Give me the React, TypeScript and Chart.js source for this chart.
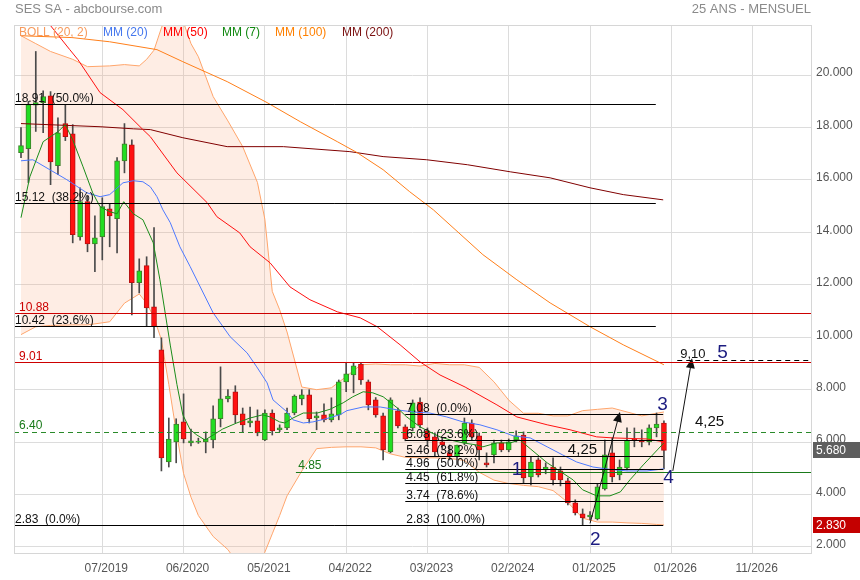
import React, { useEffect, useRef } from 'react';
import { Chart, registerables } from 'chart.js';

Chart.register(...registerables);

const FONT = '"Liberation Sans", Arial, Helvetica, sans-serif';

// ---------- monthly candles (index 0 = first month shown) ----------
const opens = [
  17.04, 17.19, 18.85, 18.95, 19.21, 16.54, 18.15, 17.76, 13.83, 15.17,
  13.56, 13.83, 14.9, 14.52, 16.73, 17.34, 12.08, 12.73, 11.16, 9.52,
  5.24, 6.01, 6.77, 5.97, 6.0, 6.01, 6.08, 6.89, 7.65, 7.92,
  7.08, 6.73, 6.81, 6.08, 7.11, 6.47, 6.54, 7.11, 7.65, 7.8,
  6.92, 7.04, 6.85, 7.04, 8.3, 8.56, 8.98, 8.3, 7.61, 7.0,
  5.63, 7.19, 6.58, 6.54, 7.53, 6.43, 6.2, 6.01, 5.59, 5.44,
  5.97, 6.73, 6.24, 5.21, 5.51, 5.97, 5.7, 6.08, 6.27, 4.67,
  5.32, 4.94, 5.05, 4.9, 4.52, 3.68, 3.26, 3.15, 3.07, 4.21,
  5.59, 4.75, 5.02, 6.12, 6.08, 6.01, 6.54, 6.73,
];
const highs = [
  18.0, 19.0, 20.9, 19.4, 19.37, 18.37, 18.87, 18.11, 15.7, 15.4,
  14.63, 15.32, 15.1, 16.85, 18.15, 17.53, 12.99, 13.07, 14.18, 9.98,
  6.92, 6.89, 7.84, 6.5, 6.15, 6.39, 7.38, 8.87, 8.0, 8.15,
  7.3, 7.34, 7.23, 7.23, 7.23, 6.66, 7.3, 7.8, 8.0, 8.0,
  7.15, 7.46, 7.69, 8.37, 9.02, 9.02, 9.02, 8.37, 7.7, 7.11,
  7.69, 7.3, 6.66, 7.61, 7.69, 6.54, 6.35, 6.16, 5.89, 5.89,
  6.92, 6.85, 6.35, 5.59, 6.08, 6.08, 6.12, 6.43, 6.39, 5.44,
  5.4, 5.21, 5.4, 5.05, 4.63, 3.8, 3.45, 3.35, 4.4, 6.08,
  6.16, 5.32, 6.54, 6.54, 6.47, 6.66, 7.11, 6.81,
];
const lows = [
  16.85, 15.9, 17.85, 17.8, 15.82, 16.2, 17.5, 13.6, 13.7, 13.26,
  12.5, 12.95, 13.45, 13.22, 16.27, 10.85, 11.69, 10.44, 9.98, 4.9,
  5.05, 5.21, 5.97, 5.85, 5.95, 5.59, 5.78, 6.58, 7.53, 6.73,
  6.39, 6.58, 6.24, 6.05, 6.27, 6.4, 6.47, 7.04, 7.42, 6.73,
  6.47, 6.77, 6.77, 6.85, 7.92, 7.88, 8.2, 7.23, 6.95, 5.32,
  5.59, 6.54, 6.05, 6.43, 6.54, 5.86, 5.48, 5.7, 5.32, 5.13,
  5.9, 6.08, 5.32, 5.05, 5.21, 5.63, 5.63, 6.01, 4.44, 4.37,
  4.67, 4.79, 4.37, 4.33, 3.6, 3.22, 2.83, 3.03, 3.03, 4.17,
  4.48, 4.56, 4.94, 5.82, 5.82, 5.89, 6.2, 4.98,
];
const closes = [
  17.31, 18.87, 18.95, 19.18, 16.69, 17.8, 17.65, 13.91, 15.17, 13.56,
  13.79, 14.98, 14.63, 16.73, 17.38, 12.08, 12.53, 11.12, 10.4, 5.4,
  6.12, 6.69, 6.12, 6.05, 6.02, 6.12, 6.89, 7.65, 7.76, 7.04,
  6.66, 6.81, 6.35, 7.11, 6.43, 6.54, 7.11, 7.76, 7.8, 6.89,
  7.0, 6.85, 7.08, 8.3, 8.6, 8.91, 8.37, 7.42, 7.04, 5.7,
  7.61, 6.62, 6.12, 7.5, 6.66, 6.08, 5.63, 5.89, 5.44, 5.89,
  6.73, 6.2, 5.7, 5.13, 5.97, 5.7, 6.01, 6.24, 4.63, 5.24,
  4.75, 5.05, 4.56, 4.56, 3.68, 3.3, 3.11, 3.22, 4.29, 5.51,
  4.67, 5.05, 6.08, 6.05, 6.01, 6.54, 6.69, 5.68,
];

// ---------- axes ----------
const xTickIdx = [11, 22, 33, 44, 55, 66, 77, 88, 99];
const xTickLabels = ['07/2019', '06/2020', '05/2021', '04/2022', '03/2023', '02/2024', '01/2025', '01/2026', '11/2026'];
const yTickValues = [2, 4, 6, 8, 10, 12, 14, 16, 18, 20];

// ---------- indicators: [month index, value] ----------
const mm7: [number, number][] = [
  [0, 14.56], [1.2, 16.12], [3, 17.46], [5, 17.84], [6, 18.11], [7, 17.53], [8.4, 16.5], [9.7, 15.51],
  [10.7, 14.98], [12, 14.79], [13, 14.71], [13.9, 15.17], [15.2, 14.71], [16.5, 14.48], [17.9, 13.6],
  [18.8, 12.19], [20.2, 9.7], [21.1, 8.2], [21.9, 7.04], [22.9, 6.47], [23.8, 6.27], [24.9, 6.08],
  [26, 6.27], [27.3, 6.5], [29.2, 6.73], [31, 6.92], [32.7, 7.04], [33.7, 6.96], [35, 6.77], [35.7, 6.73],
  [36.8, 6.92], [38.2, 7.11], [40.1, 7.11], [41.8, 7.25], [43.6, 7.5], [44.9, 7.73], [46.3, 7.92],
  [47.6, 7.88], [49, 7.73], [50.9, 7.31], [52.2, 6.96], [54, 6.58], [55.3, 6.39], [56.7, 6.2], [58.1, 6.08],
  [59.8, 5.97], [61.7, 5.89], [62.5, 5.82], [64.4, 5.97], [66.2, 5.97], [67.5, 6.08], [68.9, 5.75],
  [71.2, 5.21], [73.3, 4.82], [74.7, 4.56], [76, 4.18], [77.9, 3.95], [79.7, 3.95], [81.1, 4.1],
  [82.4, 4.56], [84.2, 5.13], [86.1, 5.7], [87, 5.97],
];
const mm20: [number, number][] = [
  [0, 16.73], [1.6, 16.77], [3.9, 16.39], [6.2, 16.01], [8.9, 15.51], [10.7, 15.36], [12, 15.44],
  [13.8, 15.89], [15.2, 15.97], [16.5, 15.93], [17.5, 15.74], [18.4, 15.36], [19.2, 14.86], [20.2, 14.37],
  [21.5, 13.45], [22.9, 12.69], [26, 10.93], [28.3, 10.02], [30.6, 9.4], [31.9, 8.87], [33.3, 8.26],
  [34.1, 7.61], [36, 7.15], [36.8, 6.85], [38.2, 6.73], [39.5, 6.77], [41.4, 6.9], [43.2, 7.05],
  [44.1, 7.2], [46.3, 7.34], [48.6, 7.34], [50.9, 7.23], [53, 7.15], [55.3, 7.11], [57.6, 6.96],
  [59.8, 6.77], [62.1, 6.66], [64.4, 6.47], [66.6, 6.24], [68.9, 6.16], [71.2, 5.82], [73.3, 5.51],
  [75.2, 5.24], [77.4, 5.05], [79.7, 4.96], [82, 4.9], [84.7, 4.9], [87, 4.98],
];
const mm50: [number, number][] = [
  [0, 23.4], [3.2, 22.1], [3.9, 21.92], [6.6, 20.97], [7.7, 20.59], [10.7, 19.33], [13.8, 18.68],
  [16.5, 17.92], [17.5, 17.65], [21.1, 16.27], [25.2, 15.13], [26.5, 14.6], [29.6, 13.98], [31, 13.45],
  [33.7, 12.84], [36.4, 11.92], [39.1, 11.43], [42.8, 10.97], [45.9, 10.74], [48.2, 10.4], [51.3, 9.71],
  [54, 9.06], [56.7, 8.56], [60.1, 8.1], [64.4, 7.42], [67.1, 6.96], [71.2, 6.66], [74.3, 6.47],
  [77.9, 6.2], [80.1, 6.16], [84.7, 6.12], [86.9, 6.01],
];
const mm100: [number, number][] = [
  [0, 21.5], [6.9, 21.43], [12, 21.27], [18.4, 20.97], [21.9, 20.51], [27.9, 19.75], [33.3, 18.95],
  [37.8, 18.22], [42.8, 17.46], [45.5, 17.04], [49, 16.39], [52.6, 15.55], [55.8, 14.86], [62.5, 13.15],
  [67.1, 12.19], [71.6, 11.31], [77, 10.4], [81.5, 9.71], [87, 8.95],
];
const mm200: [number, number][] = [
  [0, 18.15], [10.7, 18.03], [15.2, 17.95], [17.5, 17.92], [21.9, 17.61], [27.9, 17.27], [35.5, 17.27],
  [44.5, 17.08], [49, 16.89], [54.9, 16.77], [60.4, 16.58], [66.2, 16.31], [71.6, 16.08], [77, 15.7],
  [81.5, 15.44], [86.9, 15.24],
];
const bollIdx = [0, 2, 4, 7, 9, 12, 14, 16, 17, 18, 19, 20, 21, 22, 23, 24, 26, 28, 30, 32, 33, 34, 35, 36, 38,
  40, 42, 44, 46, 48, 50, 52, 54, 56, 58, 60, 62, 64, 66, 68, 70, 72, 74, 76, 78, 80, 82, 84, 86, 87];
const bollUpper = [21.5, 21.2, 20.9, 20.6, 20.32, 20.35, 20.4, 20.35, 20.6, 20.95, 21.8, 22.5, 22.6, 22.0, 21.2,
  20.7, 19.18, 18.25, 17.27, 15.9, 14.5, 11.75, 11.05, 10.2, 8.1, 8.0, 8.07, 8.5, 8.95, 8.98, 8.95, 8.95, 8.9,
  9.0, 8.95, 8.95, 8.85, 8.3, 7.6, 7.1, 7.1, 7.0, 7.0, 7.2, 7.25, 7.3, 7.15, 7.0, 7.1, 7.15];
const bollLower = [10.1, 10.4, 10.45, 10.47, 10.47, 10.59, 11.3, 11.65, 11.3, 10.75, 9.9, 8.2, 6.4, 4.8, 3.9,
  3.2, 2.4, 1.9, 1.1, 1.2, 1.8, 2.5, 3.2, 3.95, 4.9, 5.75, 5.8, 5.82, 5.82, 5.78, 5.55, 5.42, 5.4, 5.4, 5.38,
  5.3, 4.85, 4.55, 4.42, 4.35, 4.3, 4.15, 3.7, 3.1, 2.95, 2.95, 2.92, 2.9, 2.86, 2.84];

// ---------- drawn levels & annotations ----------
const fibLeftValues = [18.91, 15.12, 10.42, 2.83];
const fibLeftPct = ['50.0%', '38.2%', '23.6%', '0.0%'];
const fibRightValues = [7.08, 6.08, 5.46, 4.96, 4.45, 3.74, 2.83];
const fibRightPct = ['0.0%', '23.6%', '38.2%', '50.0%', '61.8%', '78.6%', '100.0%'];
const redLevels = [10.88, 9.01];
const greenDashedLevel = 6.4;
const greenSolidLevel = 4.85;
const targetLevel = 9.1;
const waveLabels = ['1', '2', '3', '4', '5'];
const waveIdx = [66.4, 77.0, 86.1, 86.9, 94.2];
const waveVal = [4.75, 2.08, 7.22, 4.44, 9.21];
const arrowFrom: [number, number][] = [[77, 2.9], [88.2, 4.9]];
const arrowTo: [number, number][] = [[81.05, 7.15], [90.8, 9.2]];
const moveLabels = ['4,25', '4,25', '9,10'];
const moveIdx = [74.0, 91.2, 89.2];
const moveVal = [5.55, 6.61, 9.21];
const lastPrice = 5.68;
const lowPrice = 2.83;

const legendItems = ['BOLL (20, 2)', 'MM (20)', 'MM (50)', 'MM (7)', 'MM (100)', 'MM (200)'];
const legendColors = ['#f79a5c', '#4477ee', '#ff0000', '#118811', '#ff8000', '#7a1010'];
const legendX = [19, 103, 163, 222, 275, 342];

// ---------- layout constants ----------
const X_MIN = -0.947;
const X_MAX = 106.9;
const FIB_LEFT_END = 85.9;
const FIB_RIGHT_START = 52.0;
const FIB_RIGHT_END = 86.9;
const GREEN_SOLID_START = 37.2;
const TARGET_START = 88.8;
const RED = '#cc0000';

const pts = (arr: [number, number][]) => arr.map(([x, y]) => ({ x, y }));

const annotations = {
  id: 'annotations',
  afterDatasetsDraw(chart: any) {
    const { ctx, chartArea: ca, scales } = chart;
    const xs = scales.x;
    const ys = scales.y;
    const px = (v: number) => xs.getPixelForValue(v);
    const py = (v: number) => ys.getPixelForValue(v);
    ctx.save();
    ctx.beginPath();
    ctx.rect(ca.left, ca.top, ca.right - ca.left, ca.bottom - ca.top);
    ctx.clip();
    const hline = (v: number, x0: number, x1: number, color: string, dash: number[] = [], up = false) => {
      const y = Math.round(py(v)) - (up ? 1 : 0) + 0.5;
      ctx.beginPath();
      ctx.setLineDash(dash);
      ctx.strokeStyle = color;
      ctx.lineWidth = 1;
      ctx.moveTo(px(x0), y);
      ctx.lineTo(px(x1), y);
      ctx.stroke();
      ctx.setLineDash([]);
    };
    const text = (t: string, x: number, y: number, color: string, size = 12, align: CanvasTextAlign = 'left') => {
      ctx.font = `${size}px ${FONT}`;
      ctx.fillStyle = color;
      ctx.textAlign = align;
      ctx.textBaseline = 'alphabetic';
      ctx.fillText(t, x, y);
    };

    hline(greenDashedLevel, X_MIN, X_MAX, '#2a8a2a', [5, 4]);
    hline(greenSolidLevel, GREEN_SOLID_START, X_MAX, '#1a7a1a');
    hline(targetLevel, TARGET_START, X_MAX, '#000000', [5, 4], true);
    fibLeftValues.forEach((v) => hline(v, X_MIN, FIB_LEFT_END, '#000000'));
    fibRightValues.forEach((v) => hline(v, FIB_RIGHT_START, FIB_RIGHT_END, '#000000'));

    // level texts
    fibLeftValues.forEach((v, i) => text(`${v.toFixed(2)}  (${fibLeftPct[i]})`, ca.left + 1, py(v) - 2, '#111'));
    fibRightValues.forEach((v, i) => text(`${v.toFixed(2)}  (${fibRightPct[i]})`, px(FIB_RIGHT_START) + 1, py(v) - 2, '#111'));
    redLevels.forEach((v) => text(v.toFixed(2), ca.left + 5, py(v) - 3, RED));
    text(greenDashedLevel.toFixed(2), ca.left + 5, py(greenDashedLevel) - 3, '#1a7a1a');
    text(greenSolidLevel.toFixed(2), px(37.5), py(greenSolidLevel) - 3, '#1a7a1a');

    // arrows
    arrowFrom.forEach((f, i) => {
      const t = arrowTo[i];
      const x0 = px(f[0]), y0 = py(f[1]), x1 = px(t[0]), y1 = py(t[1]);
      const ang = Math.atan2(y1 - y0, x1 - x0);
      const len = 10, half = 4.5;
      ctx.strokeStyle = '#111';
      ctx.lineWidth = 1;
      ctx.beginPath();
      ctx.moveTo(x0, y0);
      ctx.lineTo(x1 - Math.cos(ang) * len * 0.8, y1 - Math.sin(ang) * len * 0.8);
      ctx.stroke();
      ctx.fillStyle = '#111';
      ctx.beginPath();
      ctx.moveTo(x1, y1);
      ctx.lineTo(x1 - Math.cos(ang) * len - Math.sin(ang) * half, y1 - Math.sin(ang) * len + Math.cos(ang) * half);
      ctx.lineTo(x1 - Math.cos(ang) * len + Math.sin(ang) * half, y1 - Math.sin(ang) * len - Math.cos(ang) * half);
      ctx.closePath();
      ctx.fill();
    });

    moveLabels.forEach((t, i) => text(t, px(moveIdx[i]), py(moveVal[i]), '#111', i === 2 ? 13 : 15));
    waveLabels.forEach((t, i) => text(t, px(waveIdx[i]), py(waveVal[i]), '#1c1c80', 19));

    // red horizontal levels on top
    redLevels.forEach((v) => hline(v, X_MIN, X_MAX, RED, [], true));
    ctx.restore();
  },
  afterDraw(chart: any) {
    const { ctx, chartArea: ca, scales } = chart;
    const ys = scales.y;
    ctx.save();
    // frame
    ctx.strokeStyle = '#d6d6d6';
    ctx.lineWidth = 1;
    ctx.strokeRect(Math.round(ca.left) + 0.5, Math.round(ca.top) + 0.5, Math.round(ca.right - ca.left), Math.round(ca.bottom - ca.top));
    // title
    ctx.font = `13px ${FONT}`;
    ctx.fillStyle = '#8a8a8a';
    ctx.textBaseline = 'middle';
    ctx.textAlign = 'left';
    ctx.fillText('SES SA - abcbourse.com', 15, 9);
    ctx.textAlign = 'right';
    ctx.fillText('25 ANS - MENSUEL', ca.right, 9);
    // legend
    ctx.font = `12px ${FONT}`;
    ctx.textAlign = 'left';
    legendItems.forEach((t, i) => {
      ctx.fillStyle = legendColors[i];
      ctx.fillText(t, legendX[i], 33);
    });
    // price boxes on the axis
    const box = (v: number, bg: string) => {
      const y = Math.round(ys.getPixelForValue(v));
      ctx.fillStyle = bg;
      ctx.fillRect(ca.right + 2, y - 8, chart.width - ca.right - 2, 16);
      ctx.fillStyle = '#ffffff';
      ctx.font = `12px ${FONT}`;
      ctx.textAlign = 'left';
      ctx.textBaseline = 'middle';
      ctx.fillText(v.toFixed(3), ca.right + 5, y + 0.5);
    };
    box(lastPrice, '#5e5e5e');
    box(lowPrice, '#c40000');
    ctx.restore();
  },
};

export default function App() {
  const ref = useRef<HTMLCanvasElement>(null);
  useEffect(() => {
    if (!ref.current) return;
    const idx = opens.map((_, i) => i);
    const up = idx.map((i) => closes[i] >= opens[i]);
    const lineDs = (data: [number, number][], color: string, order: number, width = 1) => ({
      type: 'line',
      data: pts(data),
      borderColor: color,
      borderWidth: width,
      pointRadius: 0,
      tension: 0,
      fill: false,
      order,
    });
    const chart = new Chart(ref.current, {
      type: 'bar',
      data: {
        datasets: [
          {
            type: 'line',
            data: bollIdx.map((x, k) => ({ x, y: bollLower[k] })),
            borderColor: '#ffa56b',
            borderWidth: 1,
            pointRadius: 0,
            fill: false,
            order: 20,
          },
          {
            type: 'line',
            data: bollIdx.map((x, k) => ({ x, y: bollUpper[k] })),
            borderColor: '#ffa56b',
            borderWidth: 1,
            pointRadius: 0,
            fill: '-1',
            backgroundColor: 'rgba(250,175,130,0.22)',
            order: 19,
          },
          {
            type: 'bar',
            data: idx.map((i) => ({ x: i, y: [lows[i], highs[i]] })),
            backgroundColor: '#4a4a4a',
            barThickness: 1,
            grouped: false,
            order: 8,
          },
          {
            type: 'bar',
            data: idx.map((i) => ({ x: i, y: [opens[i], closes[i]] })),
            backgroundColor: idx.map((i) => (up[i] ? '#22dd22' : '#ff1111')),
            borderColor: idx.map((i) => (up[i] ? '#3f7f2a' : '#b81010')),
            borderWidth: 1,
            borderSkipped: false,
            barThickness: 5,
            minBarLength: 1,
            grouped: false,
            order: 7,
          },
          lineDs(mm200, '#800000', 5),
          lineDs(mm100, '#ff7f1a', 4),
          lineDs(mm50, '#ff1010', 3),
          lineDs(mm20, '#4d79ff', 2),
          lineDs(mm7, '#1a8c1a', 1),
        ],
      } as any,
      options: {
        animation: false,
        responsive: true,
        maintainAspectRatio: false,
        devicePixelRatio: 1,
        layout: { padding: { left: 14, top: 25, right: 0, bottom: 0 } },
        plugins: { legend: { display: false }, tooltip: { enabled: false }, title: { display: false } },
        scales: {
          x: {
            type: 'linear',
            min: X_MIN,
            max: X_MAX,
            offset: false,
            grid: { color: '#dcdcdc', drawTicks: false, offset: false },
            border: { display: true, color: '#d0d0d0' },
            afterBuildTicks: (s: any) => {
              s.ticks = xTickIdx.map((v) => ({ value: v }));
            },
            afterFit: (s: any) => {
              s.height = 27;
            },
            ticks: {
              autoSkip: false,
              maxRotation: 0,
              padding: 8,
              labelOffset: 4,
              color: '#555',
              font: { family: FONT, size: 12 },
              callback: (v: any) => {
                const k = xTickIdx.indexOf(Number(v));
                return k >= 0 ? xTickLabels[k] : '';
              },
            },
          },
          y: {
            type: 'linear',
            position: 'right',
            min: 1.77,
            max: 21.91,
            grid: { color: '#dcdcdc', drawTicks: false },
            border: { display: true, color: '#d0d0d0' },
            afterBuildTicks: (s: any) => {
              s.ticks = yTickValues.map((v) => ({ value: v }));
            },
            afterFit: (s: any) => {
              s.width = 49;
            },
            ticks: {
              padding: 5,
              labelOffset: -2,
              color: '#555',
              font: { family: FONT, size: 12 },
              callback: (v: any) => Number(v).toFixed(3),
            },
          },
        },
      } as any,
      plugins: [annotations],
    });
    return () => chart.destroy();
  }, []);
  return (
    <div style={{ position: 'fixed', left: 0, top: 0, width: 860, height: 580, background: '#ffffff' }}>
      <canvas ref={ref} />
    </div>
  );
}
